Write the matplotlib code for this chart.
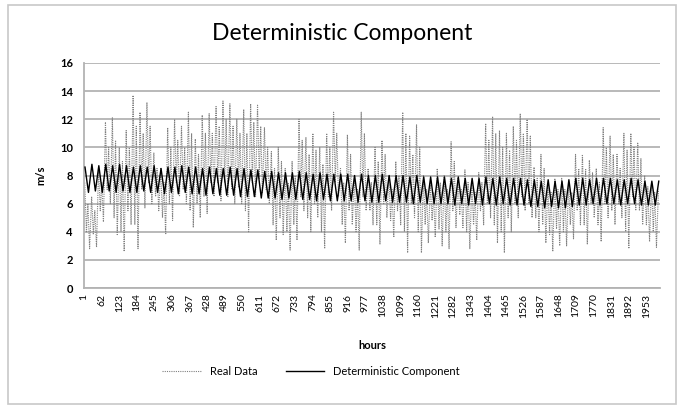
import matplotlib
matplotlib.use("Agg")
import matplotlib.pyplot as plt
import numpy as np
from matplotlib.patches import Rectangle

# measured wind speed (m/s): per day a main high, a second low,
# a second high and the main low
real_hi = [7.5, 6.5, 8.5, 11.8, 12.1, 10.0, 11.2, 13.7, 12.5, 13.2,
           9.6, 8.5, 11.4, 12.0, 11.5, 12.5, 10.6, 12.3, 12.4, 12.9,
           13.3, 13.1, 12.0, 12.7, 13.1, 13.0, 11.4, 9.7, 10.0, 8.5,
           9.0, 12.0, 10.7, 11.0, 10.0, 11.0, 12.5, 8.5, 10.9, 8.0,
           12.5, 8.5, 10.0, 10.5, 8.0, 9.0, 12.5, 10.8, 11.6, 8.0,
           7.5, 8.5, 8.0, 10.4, 7.8, 8.4, 7.5, 8.2, 11.7, 12.2,
           11.2, 11.0, 11.5, 12.4, 12.0, 8.6, 9.5, 7.5, 7.8, 7.8,
           7.5, 9.5, 9.5, 9.1, 8.5, 11.4, 10.8, 9.5, 11.0, 11.0,
           10.3, 8.0, 7.5, 7.0]
real_lo2 = [4.0, 3.8, 5.5, 7.0, 5.0, 4.0, 5.5, 4.5, 7.0, 7.5,
            6.5, 5.0, 6.0, 7.5, 7.0, 5.5, 6.0, 6.5, 7.5, 7.5,
            7.5, 7.0, 7.2, 5.5, 7.5, 7.8, 7.0, 4.5, 5.0, 4.0,
            4.5, 6.5, 5.0, 6.0, 4.0, 6.5, 7.5, 4.5, 5.5, 4.0,
            6.5, 5.5, 4.5, 6.0, 4.8, 5.5, 4.0, 6.0, 4.0, 4.5,
            4.8, 4.2, 4.0, 5.5, 5.2, 4.0, 4.5, 5.5, 6.0, 4.5,
            4.0, 5.0, 6.0, 6.5, 6.0, 5.0, 4.5, 3.8, 4.2, 4.0,
            4.5, 5.5, 4.5, 6.0, 4.5, 6.0, 5.5, 6.0, 4.0, 6.5,
            5.5, 4.5, 4.0, 6.0]
real_hi2 = [6.0, 5.5, 7.5, 10.0, 10.5, 9.0, 10.0, 11.5, 11.0, 11.5,
            8.5, 7.5, 10.0, 10.5, 10.0, 11.0, 9.5, 11.0, 11.0, 11.5,
            12.0, 11.5, 11.0, 11.0, 11.8, 11.5, 10.0, 8.5, 9.0, 7.5,
            8.0, 10.5, 9.5, 9.8, 8.8, 10.0, 11.0, 7.5, 9.5, 7.0,
            11.0, 7.5, 9.0, 9.5, 7.0, 8.0, 11.0, 9.5, 10.0, 7.0,
            6.8, 7.5, 7.0, 9.0, 7.0, 7.5, 6.8, 7.5, 10.5, 11.0,
            10.0, 9.8, 10.5, 11.0, 10.8, 7.8, 8.5, 6.8, 7.0, 7.0,
            6.8, 8.5, 8.5, 8.2, 7.5, 10.0, 9.5, 8.5, 9.8, 10.0,
            9.2, 7.2, 6.8, 6.5]
real_lo = [2.8, 2.9, 4.7, 6.0, 3.8, 2.6, 4.5, 2.8, 5.7, 6.0,
           5.5, 3.8, 4.8, 6.5, 6.0, 4.3, 5.0, 5.3, 6.5, 6.2,
           6.5, 6.0, 6.0, 4.0, 6.5, 6.8, 6.0, 3.4, 3.8, 2.7,
           3.4, 5.5, 4.0, 5.0, 2.8, 5.5, 6.5, 3.2, 4.5, 2.7,
           5.5, 4.5, 3.1, 5.0, 3.6, 4.5, 2.5, 5.0, 2.5, 3.2,
           3.6, 3.0, 2.8, 4.3, 4.3, 2.8, 3.4, 4.5, 5.0, 3.2,
           2.5, 4.0, 5.0, 5.5, 5.0, 4.0, 3.2, 2.6, 3.0, 3.0,
           3.5, 4.5, 3.1, 5.0, 3.3, 5.0, 4.5, 5.0, 2.8, 5.5,
           4.5, 3.3, 2.9, 5.5]

# daily peak / trough of the deterministic component
det_peak = [8.6, 8.8, 8.7, 8.8, 8.7, 8.8, 8.7, 8.6, 8.7, 8.6,
            8.7, 8.5, 8.6, 8.6, 8.7, 8.6, 8.6, 8.5, 8.6, 8.5,
            8.5, 8.6, 8.5, 8.5, 8.4, 8.4, 8.3, 8.3, 8.2, 8.2,
            8.2, 8.3, 8.2, 8.1, 8.2, 8.1, 8.1, 8.1, 8.1, 8.0,
            8.1, 8.0, 8.0, 8.1, 8.0, 8.0, 8.0, 7.9, 8.0, 7.9,
            7.9, 7.9, 7.9, 7.8, 7.9, 7.8, 7.8, 7.8, 7.9, 7.8,
            7.9, 7.8, 7.8, 7.8, 7.7, 7.7, 7.6, 7.7, 7.6, 7.6,
            7.7, 7.8, 7.8, 7.7, 7.8, 7.8, 7.8, 7.7, 7.7, 7.8,
            7.7, 7.6, 7.6, 7.6]
det_trough = [6.8, 6.9, 6.8, 6.9, 6.8, 6.9, 6.8, 6.8, 6.9, 6.8,
              6.8, 6.7, 6.8, 6.7, 6.8, 6.7, 6.7, 6.6, 6.7, 6.6,
              6.6, 6.6, 6.5, 6.5, 6.5, 6.4, 6.4, 6.4, 6.3, 6.4,
              6.3, 6.3, 6.3, 6.2, 6.3, 6.2, 6.2, 6.2, 6.2, 6.1,
              6.2, 6.1, 6.1, 6.2, 6.1, 6.1, 6.1, 6.0, 6.1, 6.0,
              6.0, 6.0, 6.0, 5.9, 6.0, 5.9, 6.0, 5.9, 6.0, 5.9,
              6.0, 5.9, 5.9, 5.9, 5.8, 5.8, 5.7, 5.8, 5.7, 5.7,
              5.8, 5.9, 5.9, 6.0, 5.9, 6.0, 6.0, 5.9, 6.0, 6.0,
              5.9, 5.9, 5.9, 5.9]

n_hours = 2000
tick_labels = [str(h) for h in range(1, n_hours, 61)]

days = np.arange(len(real_hi))
real_x = np.column_stack([days * 24 + 3, days * 24 + 9,
                          days * 24 + 14, days * 24 + 20]).ravel()
real_y = np.column_stack([real_hi, real_lo2, real_hi2, real_lo]).ravel()
det_x = np.column_stack([days * 24 + 4, days * 24 + 16]).ravel()
det_y = np.column_stack([det_peak, det_trough]).ravel()
keep_r = real_x <= n_hours
keep_d = det_x <= n_hours

plt.rcParams['font.family'] = ['Lato', 'DejaVu Sans']

fig = plt.figure(figsize=(6.84, 4.08), dpi=100)
ax = fig.add_axes([0.1228, 0.294, 0.8422, 0.5516])

ax.plot(real_x[keep_r], real_y[keep_r], color='#808080', lw=0.8,
        linestyle=(0, (1, 1)), label='Real Data', zorder=2)
ax.plot(det_x[keep_d], det_y[keep_d], color='black', lw=1.0,
        label='Deterministic Component', zorder=3)

ax.set_xlim(0.5, n_hours + 0.5)
ax.set_ylim(0, 16)
ax.set_yticks(np.arange(0, 17, 2))
ax.set_xticks(np.arange(1, n_hours, 61))
ax.set_xticklabels(tick_labels, rotation=90, fontsize=7.5)
ax.tick_params(axis='y', labelsize=8, length=0, pad=8)
ax.tick_params(axis='x', length=0, pad=4)
for lab in ax.get_yticklabels():
    lab.set_fontweight('bold')

ax.grid(axis='y', color='#b3b3b3', lw=1.3)
ax.set_axisbelow(True)
for s in ['top', 'right']:
    ax.spines[s].set_visible(False)
for s in ['left', 'bottom']:
    ax.spines[s].set_color('#b3b3b3')
    ax.spines[s].set_linewidth(1.3)

ax.set_ylabel('m/s', fontsize=8, fontweight='bold', labelpad=10)
ax.set_xlabel('hours', fontsize=8, fontweight='bold', labelpad=16)
fig.text(0.5, 0.918, 'Deterministic Component', ha='center', va='center',
         fontsize=16.5)

leg = fig.legend(loc='center', bbox_to_anchor=(0.455, 0.09), ncol=2,
                 frameon=False, fontsize=8, handlelength=3.5,
                 columnspacing=2.5)

fig.patches.append(Rectangle((0.012, 0.01), 0.976, 0.978,
                             transform=fig.transFigure, fill=False,
                             edgecolor='#c8c8c8', lw=1.2))

fig.savefig('out.png', dpi=100)
